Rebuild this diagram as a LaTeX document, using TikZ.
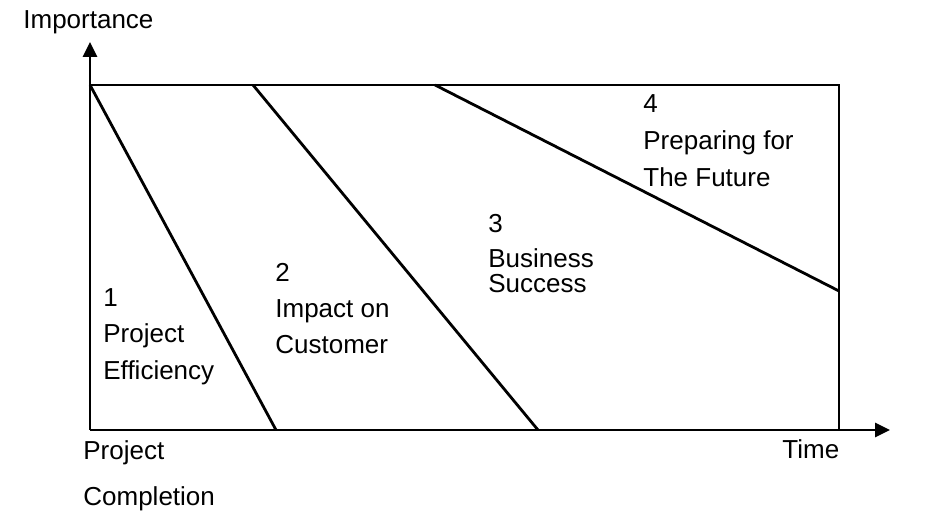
\documentclass[tikz,border=0pt]{standalone}
\usepackage{fontspec}
\setmainfont{Liberation Sans}
\usetikzlibrary{positioning,arrows.meta}

\tikzset{
  lbl/.style={inner sep=0pt, anchor=base west, font=\fontsize{13}{15}\selectfont},
  edge/.style={line width=1.4pt}
}

\begin{document}
\begin{tikzpicture}[x=0.5pt, y=-0.5pt, >={Triangle[length=7.5pt,width=7pt]}]
        \useasboundingbox (0,0) rectangle (944,522);
        % axes and frame
        \coordinate (origin) at (90,430);
        \coordinate (ytip) at (90,42);
        \coordinate (xtip) at (890,430);
        \coordinate (tl) at (90,85);
        \coordinate (tr) at (839,85);
        \coordinate (br) at (839,430);
        \draw[edge, ->] (origin) -- (ytip);
        \draw[edge, ->] (origin) -- (xtip);
        \draw[edge] (tl) -- (tr) -- (br);
        % phase boundaries
        \coordinate (a1) at (253,85);
        \coordinate (a2) at (435,85);
        \coordinate (b0) at (276,430);
        \coordinate (b1) at (538,430);
        \coordinate (b2) at (839,291);
        \draw[edge] (tl) -- (b0);
        \draw[edge] (a1) -- (b1);
        \draw[edge] (a2) -- (b2);
        % axis labels
        \node[lbl] (imp) at (23,29) {Importance};
        \node[lbl] (time) at (782,459) {Time};
        \node[lbl] (proj) at (83,460) {Project};
        \node[lbl] (compl) at (83,506) {Completion};
        % phases
        \node[lbl] (n1) at (103,307) {1};
        \node[lbl] (t1a) at (103,343) {Project};
        \node[lbl] (t1b) at (103,380) {Efficiency};
        \node[lbl] (n2) at (275,282) {2};
        \node[lbl] (t2a) at (275,318) {Impact on};
        \node[lbl] (t2b) at (275,354) {Customer};
        \node[lbl] (n3) at (488,233) {3};
        \node[lbl] (t3a) at (488,268) {Business};
        \node[lbl] (t3b) at (488,293) {Success};
        \node[lbl] (n4) at (643,113) {4};
        \node[lbl] (t4a) at (643,150) {Preparing for};
        \node[lbl] (t4b) at (643,187) {The Future};
      \end{tikzpicture}
\end{document}
